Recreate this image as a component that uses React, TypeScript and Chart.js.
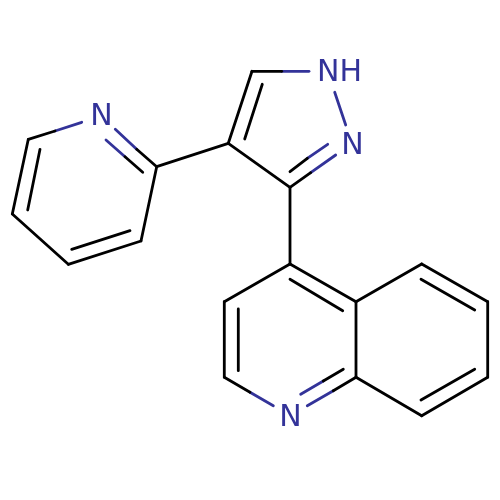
import React, { useEffect, useRef } from "react";
import { Chart, registerables } from "chart.js";

Chart.register(...registerables);

type Bond = [number, number, number, number];
type Label = [string, number, number];

const BLACK = "#000000";
const BLUE = "#333399";

const pyrazoleBlack: Bond[] = [
  [252, 71.3, 281.7, 71.3],
  [252, 71.3, 228.3, 143.3],
  [262.3, 84.3, 244.7, 139],
  [228.3, 143.3, 290, 187.3],
  [290, 187.3, 310.7, 172.7],
  [290, 171.7, 307.3, 158.3],
];
const pyrazoleBlue: Bond[] = [
  [281.7, 71.3, 309, 71.3],
  [334.7, 92.3, 345.7, 125],
  [310.7, 172.7, 335.7, 155],
  [307.3, 158.3, 327.7, 144.3],
];
const pyridineBlack: Bond[] = [
  [156.7, 166.7, 228.3, 143.3],
  [156.7, 166.7, 136.7, 149.3],
  [142.7, 172.3, 125, 156.7],
  [28.3, 139.3, 55, 131],
  [28.3, 139.3, 12.3, 214],
  [40, 149.3, 27.7, 210],
  [12.3, 214, 68.3, 264.3],
  [68.3, 264.3, 141, 241],
  [71.7, 249.3, 130, 230.7],
  [141, 241, 156.7, 166.7],
];
const pyridineBlue: Bond[] = [
  [136.7, 149.3, 115.3, 129.3],
  [125, 156.7, 106, 140],
  [55, 131, 81.7, 122.3],
];
const quinolineBlack: Bond[] = [
  [290, 187.3, 290, 264],
  [290, 264, 224.3, 301.7],
  [224.3, 301.7, 224.3, 377.3],
  [238.3, 309, 238.3, 370.7],
  [224.3, 377.3, 250, 392.3],
  [290, 264, 356, 301.7],
  [290, 279.3, 342.7, 310.7],
  [356, 301.7, 356, 377.3],
  [356, 377.3, 333.3, 390.7],
  [343.3, 369.3, 323.3, 381],
  [356, 301.7, 421.7, 264],
  [421.7, 264, 487.7, 301.7],
  [421, 279.3, 474.7, 310],
  [487.7, 301.7, 487.7, 377.3],
  [487.7, 377.3, 421.7, 415.7],
  [474.7, 369.3, 421, 400],
  [421.7, 415.7, 356, 377.3],
];
const quinolineBlue: Bond[] = [
  [250, 392.3, 273.3, 405.7],
  [333.3, 390.7, 307.3, 405.7],
  [323.3, 381, 300.7, 394.3],
];
const atomLabels: Label[] = [
  ["NH", 339.5, 73],
  ["N", 352.5, 146],
  ["N", 101.5, 117.5],
  ["N", 290.5, 418],
];

const toDataset = (bond: Bond, color: string) => ({
  data: [
    { x: bond[0], y: bond[1] },
    { x: bond[2], y: bond[3] },
  ],
  showLine: true,
  borderColor: color,
  borderWidth: 2.8,
  borderCapStyle: "round" as const,
  pointRadius: 0,
  pointHoverRadius: 0,
});

const labelPlugin = {
  id: "atomLabels",
  afterDatasetsDraw(chart: any) {
    const { ctx, scales } = chart;
    ctx.save();
    ctx.fillStyle = BLUE;
    ctx.font = '30px "DejaVu Sans"';
    ctx.textAlign = "center";
    ctx.textBaseline = "middle";
    for (const [text, x, y] of atomLabels) {
      ctx.fillText(text, scales.x.getPixelForValue(x), scales.y.getPixelForValue(y));
    }
    ctx.restore();
  },
};

export default function App() {
  const ref = useRef<HTMLCanvasElement>(null);

  useEffect(() => {
    const black = [...pyrazoleBlack, ...pyridineBlack, ...quinolineBlack];
    const blue = [...pyrazoleBlue, ...pyridineBlue, ...quinolineBlue];
    const chart = new Chart(ref.current!, {
      type: "scatter",
      data: {
        datasets: [
          ...black.map((b) => toDataset(b, BLACK)),
          ...blue.map((b) => toDataset(b, BLUE)),
        ],
      },
      options: {
        animation: false,
        responsive: false,
        devicePixelRatio: 1,
        layout: { padding: 0 },
        events: [],
        plugins: { legend: { display: false }, tooltip: { enabled: false } },
        scales: {
          x: { type: "linear", min: 0, max: 500, display: false },
          y: { type: "linear", min: 0, max: 500, reverse: true, display: false },
        },
      },
      plugins: [labelPlugin],
    });
    return () => chart.destroy();
  }, []);

  return (
    <canvas
      ref={ref}
      width={500}
      height={500}
      style={{ position: "absolute", left: 0, top: 0, width: 500, height: 500 }}
    />
  );
}
